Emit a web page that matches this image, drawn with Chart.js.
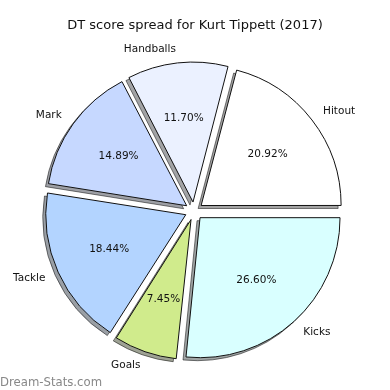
<!DOCTYPE html>
<html>
<head>
<meta charset="utf-8">
<script src="https://cdn.jsdelivr.net/npm/chart.js@4/dist/chart.umd.min.js"></script>
<style>
  html, body { margin: 0; padding: 0; background: #fff; }
  canvas { display: block; }
</style>
</head>
<body>
<canvas id="pieChart" width="390" height="390"></canvas>
<script>
// DT score breakdown, in matplotlib order (counter-clockwise from east)
const categories = ['Hitout', 'Handballs', 'Mark', 'Tackle', 'Goals', 'Kicks'];
const scores = [20.92, 11.70, 14.89, 18.44, 7.45, 26.60];
const sliceColors = ['#ffffff', '#ebf1ff', '#c6d8ff', '#b3d4ff', '#d0eb8c', '#d9ffff'];

const EXPLODE = 36;   // chart.js moves the arc by offset / 4 px
const RADIUS = 140;
const FONT = 'DejaVu Sans, sans-serif';

// chart.js draws clockwise, so feed the slices in reverse and start at 3 o'clock
const labelsCW = categories.slice().reverse();
const valuesCW = scores.slice().reverse();
const colorsCW = sliceColors.slice().reverse();

// chart.js grows narrow slices by offset * (1 - sin(angle)); undo it so all slices share one radius
const shadowAndLabels = {
    id: 'shadowAndLabels',
    beforeDatasetsDraw(chart) {
        const ctx = chart.ctx;
        const arcs = chart.getDatasetMeta(0).data;
        arcs.forEach(el => {
            el._r0 = el.outerRadius;
            const fix = 1 - Math.sin(Math.min(Math.PI, el.circumference));
            el.outerRadius = el._r0 - (EXPLODE / 4) * fix;
        });
        // grey drop shadow below and left of every wedge
        ctx.save();
        ctx.translate(-3, 3);
        ctx.filter = 'brightness(0.3)';
        ctx.globalAlpha = 0.5;
        arcs.forEach(el => el.draw(ctx));
        ctx.restore();
    },
    afterDatasetsDraw(chart) {
        const ctx = chart.ctx;
        const arcs = chart.getDatasetMeta(0).data;
        const total = valuesCW.reduce((a, b) => a + b, 0);
        ctx.save();
        ctx.fillStyle = '#111';
        ctx.font = '10.5px ' + FONT;
        ctx.textBaseline = 'middle';
        arcs.forEach((el, i) => {
            el.outerRadius = el._r0;
            const mid = (el.startAngle + el.endAngle) / 2;
            const cx = el.x + Math.cos(mid) * EXPLODE / 4;
            const cy = el.y + Math.sin(mid) * EXPLODE / 4;
            const r = el._r0;
            // category name just outside the wedge
            const lx = cx + Math.cos(mid) * r * 1.1;
            const ly = cy + Math.sin(mid) * r * 1.1;
            ctx.textAlign = Math.cos(mid) > 0 ? 'left' : 'right';
            ctx.fillText(labelsCW[i], lx, ly);
            // percentage inside
            ctx.textAlign = 'center';
            const pct = (valuesCW[i] / total * 100).toFixed(2) + '%';
            ctx.fillText(pct, cx + Math.cos(mid) * r * 0.6, cy + Math.sin(mid) * r * 0.6);
        });
        ctx.restore();
    },
    afterDraw(chart) {
        const ctx = chart.ctx;
        ctx.save();
        ctx.fillStyle = '#111';
        ctx.font = '13px ' + FONT;
        ctx.textAlign = 'center';
        ctx.textBaseline = 'middle';
        ctx.fillText('DT score spread for Kurt Tippett (2017)', 195, 26);
        ctx.fillStyle = '#888';
        ctx.font = '11.7px ' + FONT;
        ctx.textAlign = 'left';
        ctx.textBaseline = 'alphabetic';
        ctx.fillText('Dream-Stats.com', 0, 386);
        ctx.restore();
    }
};

const pieCtx = document.getElementById('pieChart').getContext('2d');
window.pieChart = new Chart(pieCtx, {
    type: 'pie',
    data: {
        labels: labelsCW,
        datasets: [{
            data: valuesCW,
            backgroundColor: colorsCW,
            borderColor: '#111',
            borderWidth: 1,
            offset: EXPLODE,
            hoverOffset: 0
        }]
    },
    options: {
        responsive: false,
        animation: false,
        events: [],
        rotation: 90,
        radius: RADIUS,
        layout: {
            padding: { left: 40, right: 42, top: 52, bottom: 20 }
        },
        plugins: {
            legend: { display: false },
            tooltip: { enabled: false },
            title: { display: false }
        }
    },
    plugins: [shadowAndLabels]
});
</script>
</body>
</html>
